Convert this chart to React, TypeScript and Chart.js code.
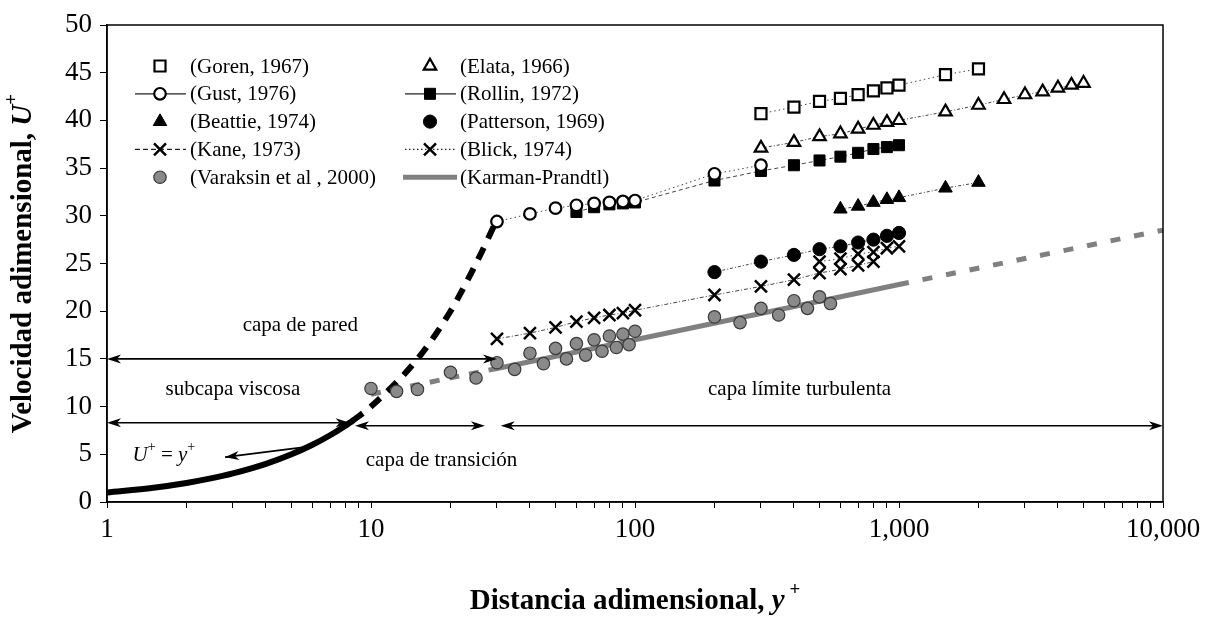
import React, { useEffect, useRef } from 'react';
import { Chart, registerables } from 'chart.js';

Chart.register(...registerables);

// ---------- data ----------
const gorenX = [300, 400, 500, 600, 700, 800, 900, 1000, 1500, 2000];
const gorenY = [40.7, 41.4, 42.0, 42.3, 42.7, 43.1, 43.4, 43.7, 44.8, 45.4];

const elataX = [300, 400, 500, 600, 700, 800, 900, 1000, 1500, 2000, 2500, 3000, 3500, 4000, 4500, 5000];
const elataY = [37.1, 37.7, 38.3, 38.6, 39.1, 39.5, 39.8, 40.0, 40.9, 41.6, 42.2, 42.7, 43.0, 43.4, 43.7, 43.9];

const gustX = [30, 40, 50, 60, 70, 80, 90, 100, 200, 300];
const gustY = [29.4, 30.2, 30.8, 31.1, 31.3, 31.4, 31.5, 31.6, 34.4, 35.3];

const rollinX = [60, 70, 80, 90, 100, 200, 300, 400, 500, 600, 700, 800, 900, 1000];
const rollinY = [30.4, 30.9, 31.2, 31.3, 31.4, 33.7, 34.7, 35.3, 35.8, 36.2, 36.6, 37.0, 37.2, 37.4];

const beattieX = [600, 700, 800, 900, 1000, 1500, 2000];
const beattieY = [30.7, 31.0, 31.4, 31.7, 31.9, 32.9, 33.5];

const pattersonX = [200, 300, 400, 500, 600, 700, 800, 900, 1000];
const pattersonY = [24.1, 25.2, 25.9, 26.5, 26.8, 27.2, 27.5, 27.9, 28.2];

const kaneX = [30, 40, 50, 60, 70, 80, 90, 100, 200, 300, 400, 500, 600, 700, 800];
const kaneY = [17.1, 17.7, 18.3, 18.9, 19.3, 19.6, 19.8, 20.1, 21.7, 22.6, 23.3, 24.0, 24.4, 24.8, 25.2];

const blickX = [500, 600, 700, 800, 900, 1000];
const blickY = [25.2, 25.5, 26.0, 26.2, 26.6, 26.8];

const varaksinX = [10, 12.5, 15, 20, 25, 30, 35, 40, 45, 50, 55, 60, 65, 70, 75, 80, 85, 90, 95, 100,
  200, 250, 300, 350, 400, 450, 500, 550];
const varaksinY = [11.9, 11.6, 11.8, 13.6, 13.0, 14.6, 13.9, 15.6, 14.5, 16.1, 15.0, 16.6, 15.4, 17.0, 15.8, 17.4, 16.2, 17.6, 16.5, 17.9,
  19.4, 18.8, 20.3, 19.6, 21.1, 20.3, 21.5, 20.8];

// Karman-Prandtl law: solid part and dashed extensions
const kpSolidX = [30, 100, 1000];
const kpSolidY = [14.0, 17.0, 22.8];
const kpLowX = [10, 30];
const kpLowY = [11.3, 14.0];
const kpHighX = [1000, 10000];
const kpHighY = [22.8, 28.5];

// U+ = y+ (viscous sublayer) solid, and its dashed continuation
const viscX = [1, 1.5, 2, 2.5, 3, 4, 5, 6, 7, 8, 8.5];
const viscY = [1, 1.5, 2, 2.5, 3, 4, 5, 6, 7, 8, 8.5];
const viscDashX = [8.5, 10, 15, 20, 25, 29.3];
const viscDashY = [8.5, 10, 15, 20, 25, 29.0];

const xMajorTicks = [1, 10, 100, 1000, 10000];
const xTickLabels = ['1', '10', '100', '1,000', '10,000'];

// ---------- styling ----------
const FONT = "'Liberation Serif', 'Times New Roman', serif";
const zip = (xs: number[], ys: number[]) => xs.map((x, i) => ({ x, y: ys[i] }));

type Mk = { style: string; fill: string; stroke: string; r: number; lw: number };
const MK: Record<string, Mk> = {
  goren: { style: 'rect', fill: '#ffffff', stroke: '#000', r: 7.8, lw: 2.2 },
  elata: { style: 'triangle', fill: '#ffffff', stroke: '#000', r: 7.2, lw: 2.2 },
  gust: { style: 'circle', fill: '#ffffff', stroke: '#000', r: 5.8, lw: 2.2 },
  rollin: { style: 'rect', fill: '#000', stroke: '#000', r: 7.8, lw: 1 },
  beattie: { style: 'triangle', fill: '#000', stroke: '#000', r: 7.8, lw: 1 },
  patterson: { style: 'circle', fill: '#000', stroke: '#000', r: 6.6, lw: 1 },
  kane: { style: 'crossRot', fill: '#000', stroke: '#000', r: 8.5, lw: 2.5 },
  blick: { style: 'crossRot', fill: '#000', stroke: '#000', r: 8.5, lw: 2.5 },
  varaksin: { style: 'circle', fill: '#8a8a8a', stroke: '#3a3a3a', r: 6.2, lw: 1.2 },
};

function series(label: string, xs: number[], ys: number[], key: string, dash: number[] | null) {
  const m = MK[key];
  return {
    label,
    data: zip(xs, ys),
    showLine: dash !== null,
    borderColor: '#444',
    borderWidth: 1,
    borderDash: dash || [],
    pointStyle: m.style,
    pointRadius: m.r,
    pointBackgroundColor: m.fill,
    pointBorderColor: m.stroke,
    pointBorderWidth: m.lw,
    pointHoverRadius: m.r,
  };
}

function lineSeries(label: string, xs: number[], ys: number[], color: string, width: number, dash: number[]) {
  return {
    label,
    data: zip(xs, ys),
    showLine: true,
    borderColor: color,
    borderWidth: width,
    borderDash: dash,
    borderCapStyle: dash.length ? 'butt' : 'round',
    pointRadius: 0,
    pointHoverRadius: 0,
    cubicInterpolationMode: 'monotone',
  };
}

// legend entries
const LEGEND = [
  { text: '(Goren, 1967)', col: 0, row: 0, mk: 'goren', line: null },
  { text: '(Gust, 1976)', col: 0, row: 1, mk: 'gust', line: 'solid' },
  { text: '(Beattie, 1974)', col: 0, row: 2, mk: 'beattie', line: null },
  { text: '(Kane, 1973)', col: 0, row: 3, mk: 'kane', line: 'dash' },
  { text: '(Varaksin et al , 2000)', col: 0, row: 4, mk: 'varaksin', line: null },
  { text: '(Elata, 1966)', col: 1, row: 0, mk: 'elata', line: null },
  { text: '(Rollin, 1972)', col: 1, row: 1, mk: 'rollin', line: 'solid' },
  { text: '(Patterson, 1969)', col: 1, row: 2, mk: 'patterson', line: null },
  { text: '(Blick, 1974)', col: 1, row: 3, mk: 'blick', line: 'dot' },
  { text: '(Karman-Prandtl)', col: 1, row: 4, mk: null, line: 'kp' },
];

// annotations (data coordinates)
const ARROWS = [
  { x1: 1, x2: 30, y: 15 },
  { x1: 1, x2: 8.3, y: 8.3 },
  { x1: 8.7, x2: 27, y: 8.0 },
  { x1: 31, x2: 10000, y: 8.0 },
];
const LABELS = [
  { text: 'capa de pared', x: 5.4, y: 18.5 },
  { text: 'subcapa viscosa', x: 3.0, y: 11.8 },
  { text: 'capa de transición', x: 18.5, y: 4.3 },
  { text: 'capa límite turbulenta', x: 420, y: 11.8 },
];

function drawMarker(ctx: CanvasRenderingContext2D, m: Mk, x: number, y: number) {
  const r = m.r;
  ctx.save();
  ctx.setLineDash([]);
  ctx.lineWidth = m.lw;
  ctx.strokeStyle = m.stroke;
  ctx.fillStyle = m.fill;
  ctx.beginPath();
  if (m.style === 'rect') {
    const s = r * Math.SQRT1_2;
    ctx.rect(x - s, y - s, 2 * s, 2 * s);
    ctx.fill();
    ctx.stroke();
  } else if (m.style === 'triangle') {
    for (let i = 0; i < 3; i++) {
      const a = (i * 2 * Math.PI) / 3;
      const px = x + Math.sin(a) * r;
      const py = y - Math.cos(a) * r;
      if (i === 0) ctx.moveTo(px, py); else ctx.lineTo(px, py);
    }
    ctx.closePath();
    ctx.fill();
    ctx.stroke();
  } else if (m.style === 'circle') {
    ctx.arc(x, y, r, 0, Math.PI * 2);
    ctx.fill();
    ctx.stroke();
  } else if (m.style === 'crossRot') {
    const s = r * Math.SQRT1_2;
    ctx.moveTo(x - s, y - s); ctx.lineTo(x + s, y + s);
    ctx.moveTo(x - s, y + s); ctx.lineTo(x + s, y - s);
    ctx.stroke();
  }
  ctx.restore();
}

function arrowHead(ctx: CanvasRenderingContext2D, x: number, y: number, dx: number, dy: number) {
  const len = Math.hypot(dx, dy);
  const ux = dx / len, uy = dy / len;
  const L = 14, W = 4.5, N = 4;
  ctx.beginPath();
  ctx.moveTo(x, y);
  ctx.lineTo(x - ux * L - uy * W, y - uy * L + ux * W);
  ctx.lineTo(x - ux * (L - N), y - uy * (L - N));
  ctx.lineTo(x - ux * L + uy * W, y - uy * L - ux * W);
  ctx.closePath();
  ctx.fill();
}

function drawRich(ctx: CanvasRenderingContext2D, parts: { t: string; font: string; dy?: number }[], cx: number, cy: number) {
  let total = 0;
  parts.forEach((p) => { ctx.font = p.font; total += ctx.measureText(p.t).width; });
  let x = cx - total / 2;
  ctx.textAlign = 'left';
  ctx.textBaseline = 'middle';
  parts.forEach((p) => {
    ctx.font = p.font;
    ctx.fillText(p.t, x, cy + (p.dy || 0));
    x += ctx.measureText(p.t).width;
  });
}

const overlay = {
  id: 'overlay',
  afterDatasetsDraw(chart: any) {
    const { ctx, chartArea: a, scales } = chart;
    const X = (v: number) => scales.x.getPixelForValue(v);
    const Y = (v: number) => scales.y.getPixelForValue(v);
    ctx.save();
    ctx.setLineDash([]);

    // plot frame
    ctx.strokeStyle = '#000';
    ctx.lineWidth = 1.5;
    ctx.strokeRect(a.left, a.top, a.right - a.left, a.bottom - a.top);

    // double arrows
    ctx.fillStyle = '#000';
    ctx.lineWidth = 1.6;
    ARROWS.forEach((ar) => {
      const x1 = X(ar.x1), x2 = X(ar.x2), y = Y(ar.y);
      ctx.beginPath();
      ctx.moveTo(x1 + 4, y);
      ctx.lineTo(x2 - 4, y);
      ctx.stroke();
      arrowHead(ctx, x1, y, -1, 0);
      arrowHead(ctx, x2, y, 1, 0);
    });

    // U+ = y+ pointer
    {
      const x1 = X(5.8), y1 = Y(5.8), x2 = X(2.8), y2 = Y(4.7);
      ctx.beginPath();
      ctx.moveTo(x1, y1);
      ctx.lineTo(x2, y2);
      ctx.stroke();
      arrowHead(ctx, x2, y2, x2 - x1, y2 - y1);
    }

    // region labels
    ctx.fillStyle = '#000';
    ctx.font = `21px ${FONT}`;
    ctx.textAlign = 'center';
    ctx.textBaseline = 'middle';
    LABELS.forEach((l) => ctx.fillText(l.text, X(l.x), Y(l.y)));

    // U+ = y+ label
    {
      const it = `italic 21px ${FONT}`;
      const sup = `14px ${FONT}`;
      const parts = [
        { t: 'U', font: it },
        { t: '+', font: sup, dy: -8 },
        { t: ' = ', font: `21px ${FONT}` },
        { t: 'y', font: it },
        { t: '+', font: sup, dy: -8 },
      ];
      let total = 0;
      parts.forEach((p) => { ctx.font = p.font; total += ctx.measureText(p.t).width; });
      drawRich(ctx, parts, X(1.25) + total / 2, Y(4.9));
    }

    // legend
    const rowY = (r: number) => a.top + 41 + r * 27.8;
    const colM = [a.left + 53, a.left + 323];
    const colT = [a.left + 83, a.left + 353];
    LEGEND.forEach((e) => {
      const y = rowY(e.row);
      const mx = colM[e.col];
      ctx.save();
      if (e.line) {
        ctx.beginPath();
        if (e.line === 'kp') {
          ctx.strokeStyle = '#808080';
          ctx.lineWidth = 5;
          ctx.setLineDash([]);
          ctx.moveTo(mx - 27, y);
          ctx.lineTo(mx + 27, y);
          ctx.stroke();
        } else {
          ctx.strokeStyle = '#222';
          ctx.lineWidth = 1.2;
          ctx.setLineDash(e.line === 'dash' ? [5, 3] : e.line === 'dot' ? [1.5, 2.5] : []);
          ctx.moveTo(mx - 25, y);
          ctx.lineTo(mx + 26, y);
          ctx.stroke();
        }
      }
      ctx.restore();
      if (e.mk) drawMarker(ctx, MK[e.mk], mx, y);
      ctx.fillStyle = '#000';
      ctx.font = `21px ${FONT}`;
      ctx.textAlign = 'left';
      ctx.textBaseline = 'middle';
      ctx.fillText(e.text, colT[e.col], y + 1);
    });

    // axis titles
    const b = `bold 29px ${FONT}`;
    const bi = `bold italic 29px ${FONT}`;
    const bs = `bold 19px ${FONT}`;
    ctx.fillStyle = '#000';
    drawRich(ctx, [
      { t: 'Distancia adimensional, ', font: b },
      { t: 'y', font: bi },
      { t: ' +', font: bs, dy: -12 },
    ], (a.left + a.right) / 2, 602);

    ctx.save();
    ctx.translate(24, (a.top + a.bottom) / 2);
    ctx.rotate(-Math.PI / 2);
    drawRich(ctx, [
      { t: 'Velocidad adimensional, ', font: b },
      { t: 'U', font: bi },
      { t: '+', font: bs, dy: -12 },
    ], 0, 0);
    ctx.restore();

    ctx.restore();
  },
};

export default function App() {
  const ref = useRef<HTMLCanvasElement | null>(null);

  useEffect(() => {
    if (!ref.current) return;
    Chart.defaults.font.family = FONT;
    const chart = new Chart(ref.current, {
      type: 'scatter',
      data: {
        datasets: [
          series('(Goren, 1967)', gorenX, gorenY, 'goren', [1.5, 3]),
          series('(Elata, 1966)', elataX, elataY, 'elata', [3, 2, 1, 2]),
          series('(Gust, 1976)', gustX, gustY, 'gust', [1.5, 3]),
          series('(Rollin, 1972)', rollinX, rollinY, 'rollin', [4, 3]),
          series('(Beattie, 1974)', beattieX, beattieY, 'beattie', [3, 2, 1, 2]),
          series('(Patterson, 1969)', pattersonX, pattersonY, 'patterson', [3, 2, 1, 2]),
          series('(Kane, 1973)', kaneX, kaneY, 'kane', [4, 2, 1, 2]),
          series('(Blick, 1974)', blickX, blickY, 'blick', [1.5, 3]),
          series('(Varaksin et al , 2000)', varaksinX, varaksinY, 'varaksin', null),
          lineSeries('(Karman-Prandtl)', kpSolidX, kpSolidY, '#808080', 5, []),
          lineSeries('Karman-Prandtl low', kpLowX, kpLowY, '#808080', 5, [10, 10]),
          lineSeries('Karman-Prandtl high', kpHighX, kpHighY, '#808080', 5, [10, 14]),
          lineSeries('U+ = y+', viscX, viscY, '#000', 6, []),
          lineSeries('U+ = y+ ext', viscDashX, viscDashY, '#000', 6, [13, 10]),
        ] as any,
      },
      options: {
        animation: false,
        responsive: false,
        events: [],
        layout: { padding: { left: 0, top: 25, right: 48, bottom: 0 } },
        plugins: {
          legend: { display: false },
          tooltip: { enabled: false },
        },
        scales: {
          x: {
            type: 'logarithmic',
            min: 1,
            max: 10000,
            afterFit: (s: any) => { s.height = 120; },
            afterBuildTicks: (s: any) => {
              const t: { value: number }[] = [];
              for (let d = 1; d < 10000; d *= 10) {
                for (let k = 1; k < 10; k++) t.push({ value: k * d });
              }
              t.push({ value: 10000 });
              s.ticks = t;
            },
            ticks: {
              autoSkip: false,
              maxRotation: 0,
              padding: 6,
              color: '#000',
              font: { size: 27, family: FONT },
              callback: (v: any) => {
                const i = xMajorTicks.indexOf(Number(v));
                return i >= 0 ? xTickLabels[i] : '';
              },
            },
            grid: { drawOnChartArea: false, drawTicks: true, tickLength: 6, color: '#000', lineWidth: 1 },
            border: { display: true, color: '#000', width: 1.5 },
          },
          y: {
            type: 'linear',
            min: 0,
            max: 50,
            afterFit: (s: any) => { s.width = 107; },
            ticks: {
              stepSize: 5,
              padding: 8,
              color: '#000',
              font: { size: 27, family: FONT },
            },
            grid: { drawOnChartArea: false, drawTicks: true, tickLength: 7, color: '#000', lineWidth: 1 },
            border: { display: true, color: '#000', width: 1.5 },
          },
        },
      } as any,
      plugins: [overlay],
    });
    return () => chart.destroy();
  }, []);

  return (
    <div style={{ position: 'absolute', left: 0, top: 0, width: 1211, height: 622, background: '#fff' }}>
      <canvas ref={ref} width={1211} height={622} style={{ display: 'block' }} />
    </div>
  );
}
